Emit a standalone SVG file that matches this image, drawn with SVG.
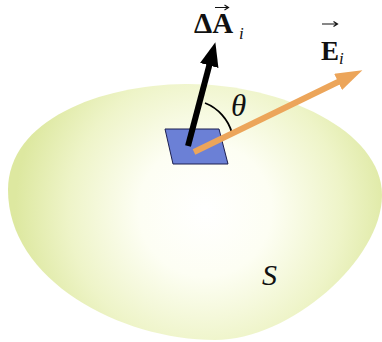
<svg xmlns="http://www.w3.org/2000/svg" width="382" height="342" viewBox="0 0 382 342">
  <defs>
    <radialGradient id="blobGrad" cx="205" cy="210" r="190" gradientUnits="userSpaceOnUse">
      <stop offset="0" stop-color="#ffffff"/>
      <stop offset="0.35" stop-color="#fdfef3"/>
      <stop offset="0.72" stop-color="#eef4c8"/>
      <stop offset="1" stop-color="#dde8a0"/>
    </radialGradient>
    <marker id="headBlack" markerUnits="userSpaceOnUse" markerWidth="26" markerHeight="20" refX="1" refY="9.5" orient="auto">
      <path d="M0,0 L24,9.5 L0,19 Z" fill="#000000"/>
    </marker>
    <marker id="headOrange" markerUnits="userSpaceOnUse" markerWidth="28" markerHeight="20" refX="1" refY="9" orient="auto">
      <path d="M0,0 L27,9 L0,18 Z" fill="#eca55a"/>
    </marker>
  </defs>
  <style>
    text { font-family: 'Liberation Serif', 'DejaVu Serif', serif; fill: #111111; }
    .bold { font-weight: bold; }
    .ital { font-style: italic; }
    .vec { stroke: #111111; stroke-width: 1.2; fill: none; }
  </style>
  <rect width="382" height="342" fill="#ffffff"/>

  <g id="surface">
    <path d="M8,190 C8,120 100,85 185,84 C280,83 382,130 382,195 C382,260 290,340 215,340 C120,340 8,280 8,190 Z" fill="url(#blobGrad)"/>
    <text class="ital" x="262" y="285" font-size="30">S</text>
  </g>

  <g id="patch">
    <polygon points="165,129 219,129 228,164 173,164" fill="#6b80d6" stroke="#1c1f4f" stroke-width="1"/>
  </g>

  <g id="connectors">
    <line id="areaVector" x1="188" y1="146" x2="209.5" y2="64.5" stroke="#000000" stroke-width="6" marker-end="url(#headBlack)"/>
    <path id="angleArc" d="M205,103 A45.5,45.5 0 0 1 232,133" fill="none" stroke="#000000" stroke-width="1.8"/>
    <line id="fieldVector" x1="194" y1="152" x2="339" y2="81.5" stroke="#eca55a" stroke-width="6" marker-end="url(#headOrange)"/>
  </g>

  <g id="labelArea">
    <text class="bold" x="194" y="33" font-size="29">ΔA</text>
    <path class="vec" d="M215,7.5 L228,7.5 M224.5,5 L228.5,7.5 L224.5,10"/>
    <text class="ital" x="239" y="39" font-size="17">i</text>
  </g>

  <g id="labelField">
    <text class="bold" x="321" y="60" font-size="27">E</text>
    <path class="vec" d="M322,24 L337,24 M333.5,21.5 L337.5,24 L333.5,26.5"/>
    <text class="ital" x="339" y="64" font-size="17">i</text>
  </g>

  <g id="labelAngle">
    <text class="ital" x="231" y="116" font-size="31">θ</text>
  </g>
</svg>
